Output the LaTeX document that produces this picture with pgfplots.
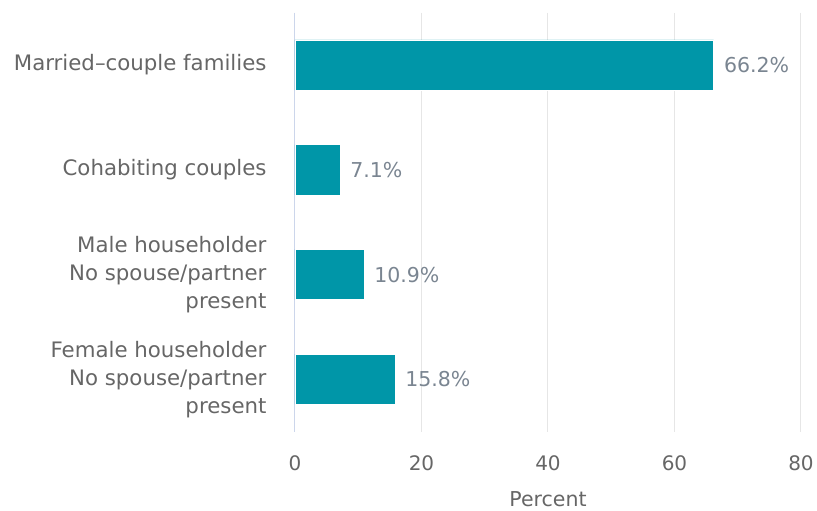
\documentclass[border=0pt]{standalone}
\usepackage{pgfplots}
\pgfplotsset{compat=1.18}
\usepackage{fontspec}
\setmainfont{DejaVu Sans}
\definecolor{barc}{HTML}{0096A8}
\definecolor{labc}{HTML}{666666}
\definecolor{datc}{HTML}{7A8591}
\definecolor{gridc}{HTML}{E6E6E6}
\definecolor{zeroc}{HTML}{CCD6EB}
\begin{document}
\begin{tikzpicture}
\path[use as bounding box] (-295pt,-79.3pt) rectangle (522pt,431.7pt);
\begin{axis}[
  at={(0,0)}, anchor=south west,
  scale only axis, width=506pt, height=419pt,
  xbar, bar width=0.48,
  xmin=0, xmax=80,
  ymin=-0.5, ymax=3.5, y dir=reverse,
  xtick={0,20,40,60,80},
  ytick={0,1,2,3},
  yticklabels={Married--couple families, Cohabiting couples, {Male householder\\No spouse/partner\\present}, {Female householder\\No spouse/partner\\present}},
  yticklabel style={align=right, font=\fontsize{21.3}{28}\selectfont, text=labc, xshift=-25pt},
  xticklabel style={font=\fontsize{20}{24}\selectfont, text=labc, yshift=-20pt},
  /pgf/number format/assume math mode=true,
  major tick length=0pt,
  axis line style={draw=none},
  xmajorgrids, grid style={color=gridc, line width=1pt},
  extra x ticks={0}, extra x tick labels={},
  extra x tick style={grid style={color=zeroc, line width=1pt}},
  xlabel={Percent},
  xlabel style={at={(axis description cs:0.5,0)}, anchor=base, yshift=-75pt, font=\fontsize{20.5}{24}\selectfont, text=labc},
  nodes near coords={\pgfmathprintnumber[fixed, fixed zerofill, precision=1]{\pgfplotspointmeta}\%},
  nodes near coords style={anchor=west, inner sep=0pt, xshift=10pt, font=\fontsize{20.5}{24}\selectfont, text=datc},
  point meta=explicit,
]
\addplot[fill=barc, draw=white, line width=0.8pt] coordinates {
  (66.2,0) [66.2]
  (7.1,1) [7.1]
  (10.9,2) [10.9]
  (15.8,3) [15.8]
};
\end{axis}
\end{tikzpicture}
\end{document}
